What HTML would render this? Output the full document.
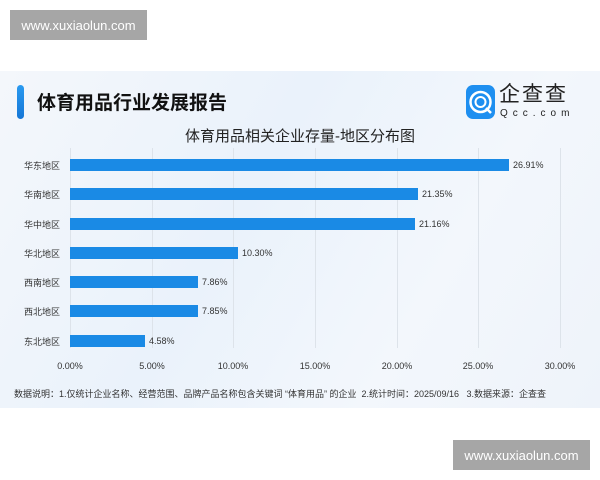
<!DOCTYPE html>
<html><head><meta charset="utf-8"><style>
body{margin:0;width:600px;height:480px;background:#fff;position:relative;overflow:hidden;font-family:"Liberation Sans","Noto Sans CJK SC",sans-serif}
.wm{position:absolute;background:#a6a6a6;color:#fff;font-size:13px;display:flex;align-items:center;justify-content:center}
.panel{position:absolute;left:0;top:71px;width:600px;height:337px;background:linear-gradient(120deg,#f4f7fb 0%,#eaf2fb 40%,#f3f7fc 70%,#eef3fa 100%)}
.abs{position:absolute;white-space:nowrap}
.lbl{font-size:9px;color:#333;width:60px;text-align:right;left:0}
.bar{position:absolute;left:70px;height:12px;background:#1a8ae5}
.val{font-size:9px;color:#333}
.grid{position:absolute;top:77px;width:1px;height:200px;background:#dde3ea}
.tick{font-size:9px;color:#333;width:50px;text-align:center;top:290px}
</style></head><body>
<div class="wm" style="left:10px;top:10px;width:137px;height:30px">www.xuxiaolun.com</div>
<div class="panel">
<div class="abs" style="left:17px;top:14px;width:7px;height:34px;border-radius:4px;background:linear-gradient(#2a9af0,#1576d6)"></div>
<div class="abs" style="left:37px;top:17px;font-size:19px;font-weight:bold;color:#111">体育用品行业发展报告</div>
<div class="abs" style="left:466px;top:14px;width:29px;height:34px;border-radius:7px;background:#1e8ff0">
<svg width="29" height="34" viewBox="0 0 29 34"><circle cx="14.5" cy="17" r="10" fill="none" stroke="#fff" stroke-width="2.5"/><circle cx="14.5" cy="17" r="5" fill="none" stroke="#fff" stroke-width="2"/><line x1="20" y1="23" x2="25" y2="28" stroke="#fff" stroke-width="2.5"/></svg></div>
<div class="abs" style="left:499px;top:12px;font-size:21px;line-height:24px;color:#222;letter-spacing:2px">企查查</div>
<div class="abs" style="left:500px;top:37px;font-size:10px;line-height:11px;color:#222;letter-spacing:5px">Qcc.com</div>
<div class="abs" style="left:0;width:600px;text-align:center;top:54px;font-size:15px;color:#222">体育用品相关企业存量-地区分布图</div>
<div class="grid" style="left:70px"></div><div class="grid" style="left:152px"></div><div class="grid" style="left:233px"></div><div class="grid" style="left:315px"></div><div class="grid" style="left:397px"></div><div class="grid" style="left:478px"></div><div class="grid" style="left:560px"></div>

<div class="abs lbl" style="top:88px">华东地区</div><div class="bar" style="top:88px;width:439px"></div><div class="abs val" style="left:513px;top:89px">26.91%</div>
<div class="abs lbl" style="top:117px">华南地区</div><div class="bar" style="top:117px;width:348px"></div><div class="abs val" style="left:422px;top:118px">21.35%</div>
<div class="abs lbl" style="top:147px">华中地区</div><div class="bar" style="top:147px;width:345px"></div><div class="abs val" style="left:419px;top:148px">21.16%</div>
<div class="abs lbl" style="top:176px">华北地区</div><div class="bar" style="top:176px;width:168px"></div><div class="abs val" style="left:242px;top:177px">10.30%</div>
<div class="abs lbl" style="top:205px">西南地区</div><div class="bar" style="top:205px;width:128px"></div><div class="abs val" style="left:202px;top:206px">7.86%</div>
<div class="abs lbl" style="top:234px">西北地区</div><div class="bar" style="top:234px;width:128px"></div><div class="abs val" style="left:202px;top:235px">7.85%</div>
<div class="abs lbl" style="top:264px">东北地区</div><div class="bar" style="top:264px;width:75px"></div><div class="abs val" style="left:149px;top:265px">4.58%</div>

<div class="abs tick" style="left:45px">0.00%</div><div class="abs tick" style="left:127px">5.00%</div><div class="abs tick" style="left:208px">10.00%</div><div class="abs tick" style="left:290px">15.00%</div><div class="abs tick" style="left:372px">20.00%</div><div class="abs tick" style="left:453px">25.00%</div><div class="abs tick" style="left:535px">30.00%</div>
<div class="abs" style="left:14px;top:316px;font-size:9px;color:#333">数据说明：1.仅统计企业名称、经营范围、品牌产品名称包含关键词 “体育用品” 的企业&nbsp;&nbsp;2.统计时间：2025/09/16&nbsp;&nbsp;&nbsp;3.数据来源：企查查</div>
</div>
<div class="wm" style="left:453px;top:440px;width:137px;height:30px">www.xuxiaolun.com</div>
</body></html>
